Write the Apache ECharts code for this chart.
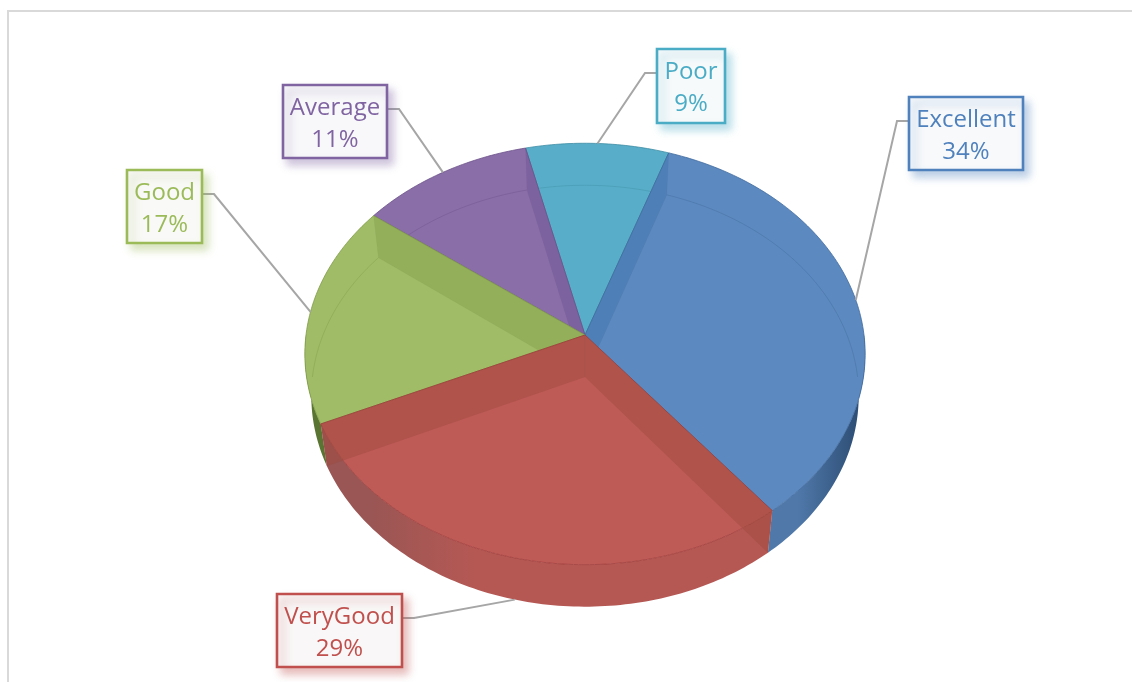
<!DOCTYPE html>
<html>
<head>
<meta charset="utf-8">
<style>html,body{margin:0;padding:0;background:#fff}#c{width:1132px;height:682px}</style>
<script src="https://cdn.jsdelivr.net/npm/echarts@6/dist/echarts.min.js"></script>
</head>
<body>
<div id="c"></div>
<script>
const categories = ['Excellent', 'VeryGood', 'Good', 'Average', 'Poor'];
const shares = [34, 29, 17, 11, 9];
const startAngle = 19;

const topColors = ['#5C89BF', '#BF5B57', '#A0BC66', '#8A6EA8', '#58AEC8'];
const edgeColors = ['#3F6A9E', '#9E3B38', '#7F9A48', '#6B5088', '#3E8CA5'];
const wallColors = ['#3F74AE', '#A04B3C', '#86A04C', '#6F5497', '#3E95AE'];
const textColors = ['#4F81BD', '#C0504D', '#9BBB59', '#8064A2', '#4BACC6'];
const boxFills = ['#F7F9FB', '#F9F7F7', '#F9F9F7', '#F8F8FA', '#F7FAFB'];
const sideLight = ['#5079AA', '#B55854', '#6E8A3E', '#6F5A8C', '#4C93A9'];
const sideDark = ['#2A4A70', '#9A5654', '#5A7432', '#54406E', '#35708A'];
const boxes = [
  { x: 909, y: 97, w: 114, h: 73, side: 'left' },
  { x: 277, y: 594, w: 125, h: 73, side: 'right' },
  { x: 127, y: 170, w: 75, h: 73, side: 'right' },
  { x: 283, y: 85, w: 104, h: 73, side: 'right' },
  { x: 657, y: 49, w: 68, h: 74, side: 'left' }
];

const geo = { cx: 585, cy: 335, rx: 279, ry: 209, k: 0.09, depth: 42, bottomScale: 0.977 };
const total = shares.reduce((a, b) => a + b, 0);
const rad = d => d * Math.PI / 180;

function project(deg, lower) {
  const sx = Math.sin(rad(deg)), sy = -Math.cos(rad(deg));
  const w = 1 - geo.k * sy;
  const scale = lower ? geo.bottomScale : 1;
  return [geo.cx + scale * geo.rx * sx / w, geo.cy + geo.ry * sy / w + (lower ? geo.depth : 0)];
}
function arc(a0, a1, lower) {
  const n = Math.max(2, Math.ceil(Math.abs(a1 - a0)));
  const pts = [];
  for (let i = 0; i <= n; i++) pts.push(project(a0 + (a1 - a0) * i / n, lower));
  return pts;
}
function sliceAngles(index) {
  let a = startAngle;
  for (let i = 0; i < index; i++) a += shares[i] / total * 360;
  return [a, a + shares[index] / total * 360];
}
const apex = [geo.cx, geo.cy];
const apexLow = [geo.cx, geo.cy + geo.depth];

function wall(deg, i, z) {
  return {
    type: 'polygon', z2: z, silent: true,
    shape: { points: [project(deg, false), apex, apexLow, project(deg, true)] },
    style: { fill: wallColors[i], opacity: 0.46, stroke: 'rgba(60,60,60,0.1)', lineWidth: 0.6 }
  };
}

function renderItem(params, api) {
  const i = params.dataIndex;
  const value = api.value(0);
  const [a0, a1] = sliceAngles(i);
  const mid = (a0 + a1) / 2;
  const front = -Math.cos(rad(mid));
  const z = Math.round(front * 100) * 10 + 2000;
  const kids = [];

  // outer rim wall on the front half
  const f0 = Math.max(a0, 90), f1 = Math.min(a1, 270);
  if (f1 > f0) {
    kids.push({
      type: 'polygon', z2: z, silent: true,
      shape: { points: arc(f0, f1, false).concat(arc(f1, f0, true)) },
      style: {
        fill: {
          type: 'linear', global: true, x: geo.cx - geo.rx, y: 0, x2: geo.cx + geo.rx, y2: 0,
          colorStops: i === 0
            ? [{ offset: 0.6, color: sideLight[i] }, { offset: 0.88, color: sideLight[i] }, { offset: 1, color: sideDark[i] }]
            : [{ offset: 0, color: sideDark[i] }, { offset: 0.12, color: sideDark[i] }, { offset: 0.3, color: sideLight[i] }, { offset: 1, color: sideLight[i] }]
        }
      }
    });
  }
  // top face
  kids.push({
    type: 'polygon', z2: z + 1, silent: true,
    shape: { points: [apex].concat(arc(a0, a1, false)) },
    style: { fill: topColors[i], stroke: edgeColors[i], lineWidth: 0.8 }
  });
  // radial cut walls seen through the glassy top
  if (Math.sin(rad(a0)) > 0) kids.push(wall(a0, i, z + 2));
  if (Math.sin(rad(a1)) < 0) kids.push(wall(a1, i, z + 2));
  // back rim of the floor seen through the top
  const segs = [];
  if (a1 > 90 && a0 < 90) segs.push([a0, 90]);
  else if (a1 <= 90) segs.push([a0, a1]);
  if (a1 > 270 && a0 < 270) segs.push([270, a1]);
  else if (a0 >= 270) segs.push([a0, a1]);
  segs.forEach(s => kids.push({
    type: 'polyline', z2: z + 3, silent: true,
    shape: { points: arc(s[0], s[1], true) },
    style: { fill: 'none', stroke: edgeColors[i], opacity: 0.5, lineWidth: 0.8 }
  }));

  // leader and callout
  const b = boxes[i];
  const tip = project(mid, front > 0.5);
  const midY = b.y + 24;
  const sx = b.side === 'left' ? b.x : b.x + b.w;
  const kx = b.side === 'left' ? sx - 12 : sx + 12;
  kids.push({
    type: 'polyline', z2: 9000, silent: true,
    shape: { points: [[sx, midY], [kx, midY], tip] },
    style: { fill: 'none', stroke: '#A6A6A6', lineWidth: 2 }
  });
  kids.push({
    type: 'rect', z2: 9001, silent: true,
    shape: { x: b.x, y: b.y, width: b.w, height: b.h },
    style: {
      fill: boxFills[i], stroke: textColors[i], lineWidth: 2.6,
      shadowBlur: 8, shadowOffsetX: 5, shadowOffsetY: 6, shadowColor: textColors[i] + '60'
    }
  });
  const cxBox = b.x + b.w / 2;
  const font = '24px "Open Sans", "Noto Sans", sans-serif';
  kids.push({
    type: 'text', z2: 9002, silent: true,
    style: { x: cxBox, y: b.y + 23, text: categories[i], fill: textColors[i], font, align: 'center', verticalAlign: 'middle' }
  });
  kids.push({
    type: 'text', z2: 9002, silent: true,
    style: { x: cxBox, y: b.y + 55, text: value + '%', fill: textColors[i], font, align: 'center', verticalAlign: 'middle' }
  });
  return { type: 'group', children: kids };
}

const chart = echarts.init(document.getElementById('c'), null, { width: 1132, height: 682, renderer: 'canvas' });
chart.setOption({
  animation: false,
  backgroundColor: '#ffffff',
  graphic: [{
    type: 'polyline', silent: true,
    shape: { points: [[8, 682], [8, 11], [1132, 11]] },
    style: { fill: 'none', stroke: '#D9D9D9', lineWidth: 2 }
  }],
  series: [{
    type: 'custom',
    coordinateSystem: 'none',
    renderItem: renderItem,
    clip: false,
    silent: true,
    data: shares.map((v, i) => ({ name: categories[i], value: [v] }))
  }]
});
</script>
</body>
</html>
